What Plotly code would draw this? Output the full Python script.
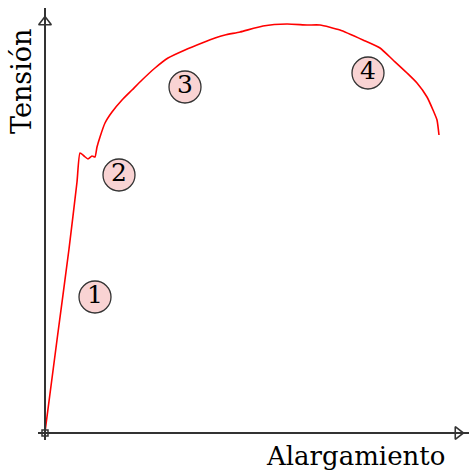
import plotly.graph_objects as go

# curva tension-alargamiento (unidades arbitrarias)
alargamiento = [0, 12, 24, 32, 35, 39, 43, 47, 50, 52, 55, 60, 67, 77, 87, 97, 110, 123,
                140, 157, 170, 180, 195, 218, 242, 262, 275, 295, 318, 335, 348, 362,
                372, 382, 388, 392, 394]
tension = [0, 92, 183, 250, 279, 276, 273, 276, 275, 285, 295, 309, 320, 332, 342, 352, 364,
           374, 382, 389, 394, 397, 400, 406, 408, 407, 407, 402, 392, 384, 372, 359,
           349, 335, 322, 312, 297]

# zonas numeradas
zonas_x = [50, 74, 140, 323]
zonas_y = [135, 257, 345, 359]
zonas_txt = ["1", "2", "3", "4"]

FUENTE = "DejaVu Serif, Liberation Serif, serif"
EJE = "#333333"

fig = go.Figure()

# ejes dibujados a mano
fig.add_shape(type="line", x0=-7, y0=-1, x1=424, y1=-1, line=dict(color=EJE, width=2))
fig.add_shape(type="line", x0=0, y0=-8, x1=0, y1=424, line=dict(color=EJE, width=2))

fig.add_trace(go.Scatter(
    x=alargamiento, y=tension, mode="lines",
    line=dict(color="#ff0000", width=1.6, shape="spline", smoothing=0.5),
    hoverinfo="skip"
))

# puntas de flecha y origen
fig.add_trace(go.Scatter(
    x=[413, 0], y=[-1, 410], mode="markers",
    marker=dict(symbol=["triangle-right", "triangle-up"], size=11,
                color="white", line=dict(color=EJE, width=1.6)),
    hoverinfo="skip"
))
fig.add_trace(go.Scatter(
    x=[0], y=[-1], mode="markers",
    marker=dict(symbol="square", size=6, color="white", line=dict(color=EJE, width=1.5)),
    hoverinfo="skip"
))

fig.add_trace(go.Scatter(
    x=zonas_x, y=zonas_y, mode="markers+text", text=zonas_txt,
    textposition="middle center",
    textfont=dict(family=FUENTE, size=25, color="black"),
    marker=dict(size=32, color="#f9d3d3", line=dict(color="#333333", width=1.3)),
    hoverinfo="skip"
))

fig.add_annotation(text="Tensión", x=-24, y=350, textangle=-90, showarrow=False,
                   font=dict(family=FUENTE, size=27, color="black"))
fig.add_annotation(text="Alargamiento", x=310, y=-24, showarrow=False,
                   font=dict(family=FUENTE, size=26, color="black"))

fig.update_layout(
    width=469, height=472,
    margin=dict(l=0, r=0, t=0, b=0),
    paper_bgcolor="white", plot_bgcolor="white",
    showlegend=False
)
fig.update_xaxes(range=[-45, 424], visible=False)
fig.update_yaxes(range=[-40, 432], visible=False)

fig.write_html("out.html", config={"displayModeBar": False},
               post_script="document.body.style.margin='0';")
